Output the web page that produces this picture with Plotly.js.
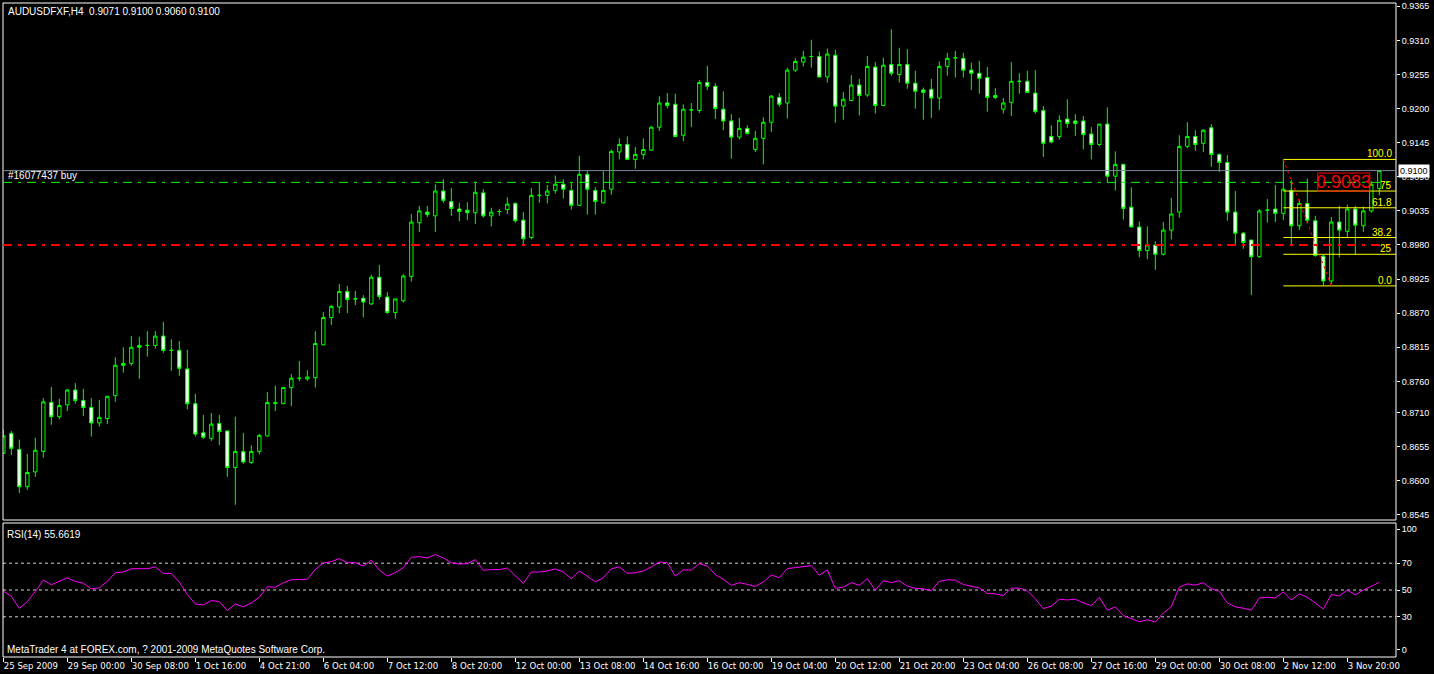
<!DOCTYPE html>
<html><head><meta charset="utf-8">
<script src="https://cdn.plot.ly/plotly-3.0.1.min.js"></script>
<style>html,body{margin:0;padding:0;background:#000;overflow:hidden}#chart{width:1434px;height:674px}</style>
</head><body><div id="chart"></div>
<script>
// ---------------- data ----------------
const symbolTitle = "AUDUSDFXF,H4  0.9071 0.9100 0.9060 0.9100";
const rsiTitle = "RSI(14) 55.6619";
const footerText = "MetaTrader 4 at FOREX.com, ? 2001-2009 MetaQuotes Software Corp.";

const openP = [
0.8644,0.8676,0.8650,0.8590,0.8614,0.8647,0.8726,0.8703,0.8722,0.8746,
0.8729,0.8718,0.8693,0.8700,0.8737,0.8789,0.8789,0.8818,0.8818,0.8818,
0.8833,0.8810,0.8810,0.8780,0.8724,0.8677,0.8668,0.8692,0.8680,0.8621,
0.8647,0.8629,0.8647,0.8672,0.8724,0.8724,0.8750,0.8765,0.8764,0.8766,
0.8819,0.8863,0.8880,0.8905,0.8893,0.8894,0.8885,0.8928,0.8896,0.8871,
0.8890,0.8929,0.9016,0.9033,0.9027,0.9067,0.9050,0.9038,0.9036,0.9032,
0.9064,0.9027,0.9034,0.9037,0.9047,0.9020,0.8992,0.9060,0.9060,0.9068,
0.9078,0.9068,0.9044,0.9094,0.9068,0.9048,0.9070,0.9130,0.9142,0.9118,
0.9126,0.9133,0.9170,0.9209,0.9207,0.9157,0.9198,0.9197,0.9242,0.9236,
0.9199,0.9180,0.9154,0.9168,0.9134,0.9152,0.9178,0.9218,0.9209,0.9262,
0.9275,0.9284,0.9284,0.9251,0.9286,0.9204,0.9213,0.9238,0.9222,0.9267,
0.9205,0.9271,0.9255,0.9271,0.9241,0.9230,0.9231,0.9217,0.9268,0.9282,
0.9281,0.9262,0.9257,0.9250,0.9221,0.9199,0.9210,0.9244,0.9244,0.9225,
0.9197,0.9155,0.9155,0.9183,0.9180,0.9180,0.9159,0.9142,0.9175,0.9091,
0.9110,0.9041,0.9009,0.8971,0.8980,0.8965,0.9004,0.9033,0.9139,0.9155,
0.9144,0.9169,0.9126,0.9113,0.9033,0.8999,0.8988,0.8961,0.9036,0.9038,
0.9031,0.9068,0.9011,0.9047,0.9019,0.8962,0.8922,0.9017,0.9002,0.9038,
0.9011,0.9035,0.9071];
const highP = [
0.8682,0.8680,0.8666,0.8643,0.8669,0.8733,0.8751,0.8732,0.8748,0.8757,
0.8748,0.8733,0.8730,0.8736,0.8799,0.8815,0.8833,0.8832,0.8841,0.8841,
0.8856,0.8828,0.8825,0.8811,0.8740,0.8706,0.8709,0.8706,0.8681,0.8703,
0.8677,0.8657,0.8675,0.8743,0.8753,0.8751,0.8772,0.8793,0.8778,0.8841,
0.8872,0.8883,0.8917,0.8914,0.8906,0.8899,0.8932,0.8948,0.8904,0.8893,
0.8933,0.9030,0.9043,0.9043,0.9078,0.9086,0.9072,0.9048,0.9049,0.9082,
0.9070,0.9040,0.9038,0.9057,0.9049,0.9033,0.9072,0.9081,0.9077,0.9092,
0.9086,0.9081,0.9124,0.9099,0.9073,0.9099,0.9134,0.9152,0.9155,0.9138,
0.9152,0.9172,0.9220,0.9225,0.9224,0.9207,0.9209,0.9246,0.9269,0.9241,
0.9228,0.9191,0.9185,0.9173,0.9164,0.9186,0.9222,0.9225,0.9266,0.9281,
0.9293,0.9311,0.9292,0.9297,0.9295,0.9227,0.9254,0.9248,0.9285,0.9275,
0.9282,0.9328,0.9298,0.9296,0.9261,0.9234,0.9248,0.9276,0.9290,0.9293,
0.9290,0.9274,0.9277,0.9267,0.9233,0.9217,0.9275,0.9257,0.9261,0.9262,
0.9204,0.9173,0.9189,0.9215,0.9191,0.9188,0.9170,0.9175,0.9202,0.9131,
0.9111,0.9073,0.9018,0.9010,0.8986,0.9017,0.9056,0.9157,0.9178,0.9165,
0.9167,0.9175,0.9128,0.9125,0.9067,0.9001,0.8988,0.9038,0.9054,0.9077,
0.9118,0.9085,0.9053,0.9087,0.9027,0.8964,0.9025,0.9043,0.9045,0.9043,
0.9042,0.9083,0.9100];
const lowP = [
0.8643,0.8641,0.8580,0.8585,0.8606,0.8637,0.8690,0.8699,0.8712,0.8724,
0.8704,0.8671,0.8687,0.8691,0.8727,0.8774,0.8785,0.8764,0.8800,0.8813,
0.8806,0.8777,0.8769,0.8715,0.8671,0.8667,0.8664,0.8657,0.8606,0.8561,
0.8627,0.8627,0.8642,0.8671,0.8712,0.8723,0.8720,0.8760,0.8761,0.8750,
0.8818,0.8851,0.8870,0.8870,0.8883,0.8863,0.8883,0.8892,0.8869,0.8861,
0.8887,0.8921,0.9001,0.9025,0.9001,0.9048,0.9027,0.9018,0.9020,0.9014,
0.9024,0.9010,0.9027,0.9030,0.9016,0.8979,0.8989,0.9048,0.9047,0.9063,
0.9055,0.9037,0.9043,0.9029,0.9029,0.9047,0.9061,0.9118,0.9117,0.9103,
0.9118,0.9132,0.9164,0.9200,0.9154,0.9147,0.9170,0.9193,0.9230,0.9183,
0.9165,0.9119,0.9150,0.9158,0.9130,0.9110,0.9162,0.9203,0.9184,0.9259,
0.9268,0.9266,0.9250,0.9242,0.9177,0.9182,0.9213,0.9189,0.9219,0.9192,
0.9204,0.9253,0.9242,0.9232,0.9200,0.9182,0.9185,0.9198,0.9253,0.9250,
0.9250,0.9230,0.9224,0.9195,0.9215,0.9192,0.9188,0.9224,0.9226,0.9192,
0.9122,0.9144,0.9150,0.9169,0.9156,0.9134,0.9118,0.9139,0.9081,0.9068,
0.9021,0.9009,0.8960,0.8957,0.8940,0.8963,0.8989,0.9024,0.9136,0.9132,
0.9130,0.9106,0.9098,0.9019,0.8980,0.8974,0.8899,0.8959,0.9016,0.9017,
0.9020,0.8978,0.9004,0.9015,0.8961,0.8914,0.8917,0.8960,0.8991,0.8964,
0.9001,0.9032,0.9060];
const closeP = [
0.8672,0.8652,0.8590,0.8613,0.8649,0.8727,0.8703,0.8721,0.8746,0.8729,
0.8718,0.8693,0.8702,0.8736,0.8786,0.8786,0.8815,0.8815,0.8818,0.8833,
0.8810,0.8810,0.8781,0.8724,0.8675,0.8670,0.8691,0.8679,0.8621,0.8647,
0.8630,0.8647,0.8673,0.8726,0.8726,0.8750,0.8765,0.8765,0.8767,0.8821,
0.8863,0.8881,0.8905,0.8892,0.8893,0.8888,0.8928,0.8897,0.8871,0.8893,
0.8930,0.9017,0.9035,0.9029,0.9067,0.9052,0.9039,0.9034,0.9032,0.9065,
0.9027,0.9033,0.9034,0.9046,0.9019,0.8990,0.9060,0.9060,0.9067,0.9078,
0.9070,0.9044,0.9094,0.9070,0.9050,0.9068,0.9131,0.9142,0.9118,0.9126,
0.9134,0.9170,0.9209,0.9205,0.9155,0.9199,0.9198,0.9242,0.9236,0.9200,
0.9180,0.9154,0.9168,0.9160,0.9152,0.9178,0.9220,0.9207,0.9262,0.9276,
0.9283,0.9284,0.9251,0.9288,0.9204,0.9215,0.9238,0.9221,0.9268,0.9205,
0.9270,0.9257,0.9271,0.9241,0.9228,0.9226,0.9217,0.9268,0.9281,0.9282,
0.9262,0.9257,0.9249,0.9218,0.9218,0.9209,0.9244,0.9244,0.9226,0.9195,
0.9144,0.9146,0.9181,0.9176,0.9176,0.9158,0.9142,0.9175,0.9091,0.9110,
0.9039,0.9009,0.8971,0.8980,0.8965,0.9004,0.9030,0.9139,0.9155,0.9142,
0.9165,0.9126,0.9113,0.9033,0.8999,0.8984,0.8961,0.9035,0.9036,0.9031,
0.9070,0.9011,0.9047,0.9020,0.8963,0.8922,0.9017,0.9004,0.9038,0.9012,
0.9035,0.9078,0.9100];
const rsi14 = [
49.1,45.4,36.3,41.3,48.9,57.4,53.9,56.4,59.1,56.4,
55.1,50.9,51.6,56.4,62.9,63.4,65.9,65.9,65.9,67.2,
62.4,62.4,55.9,46.6,39.6,38.9,42.1,41.4,34.6,39.6,
37.4,40.4,44.6,52.4,52.1,55.4,57.6,57.9,57.9,65.4,
70.2,71.2,73.4,70.4,70.4,67.9,72.2,64.9,60.4,62.9,
66.7,74.4,74.9,73.9,76.4,73.9,70.4,69.4,69.7,72.7,
64.7,65.2,65.2,66.4,60.9,54.9,63.4,63.4,64.2,65.7,
63.4,58.4,64.2,59.9,56.2,59.1,65.9,67.2,62.4,62.9,
64.2,67.2,70.9,70.4,60.4,64.9,64.9,69.7,67.9,61.5,
58.0,53.5,55.5,54.2,52.7,56.0,61.2,59.2,66.0,66.7,
67.2,68.2,61.0,65.0,51.2,52.2,55.5,53.5,58.5,49.9,
56.9,55.6,56.9,52.9,51.2,50.9,49.6,56.4,57.6,57.4,
54.1,52.9,51.6,47.4,47.1,45.9,51.4,51.4,49.4,43.4,
36.1,37.9,43.1,42.6,43.1,40.4,38.4,44.6,34.9,37.4,
30.9,28.6,26.3,27.8,26.1,32.8,37.6,52.1,54.6,53.6,
55.4,50.9,49.1,40.4,37.4,36.4,34.9,44.1,44.6,44.1,
48.6,42.6,47.1,44.6,39.9,35.9,46.6,45.6,49.9,46.4,
49.9,52.9,55.66];

const timeTickIdx = [0,8,16,24,32,40,48,56,64,72,80,88,96,104,112,120,128,136,144,152,160,168];
const timeTickLabels = ["25 Sep 2009","29 Sep 00:00","30 Sep 08:00","1 Oct 16:00","4 Oct 21:00","6 Oct 04:00",
 "7 Oct 12:00","8 Oct 20:00","12 Oct 00:00","13 Oct 08:00","14 Oct 16:00","16 Oct 00:00","19 Oct 04:00",
 "20 Oct 12:00","21 Oct 20:00","23 Oct 04:00","26 Oct 08:00","27 Oct 16:00","29 Oct 00:00","30 Oct 08:00",
 "2 Nov 12:00","3 Nov 20:00"];
const priceTicks = [0.9365,0.9310,0.9255,0.9200,0.9145,0.9090,0.9035,0.8980,0.8925,0.8870,0.8815,0.8760,0.8710,0.8655,0.8600,0.8545];
const rsiTickVals = [95.5,70,50,30,5.3];
const rsiTickLabels = ["100","70","50","30","0"];
const rsiLevels = [70,50,30];

const orderLabel = "#16077437 buy";
const orderPrice = 0.9081;
const stopPrice = 0.8980;
const bidPrice = 0.9100;
const bidLabel = "0.9100";
const fibStartIdx = 160, fibEndIdx = 166;
const fibPrices = [0.9118,0.9067,0.9040,0.8992,0.8965,0.8914];
const fibLabels = ["100.0","75","61.8","38.2","25","0.0"];
const noteText = "0.9083";
const noteBox = {i0:164.3, i1:170.8, p0:0.9067, p1:0.9096};

// ---------------- layout helpers (pixel geometry) ----------------
const W=1434,H=674, ML=3, MR=38, MT=3, MB=17;
const PW=W-ML-MR, PH=H-MT-MB;
const px2x = px => (px-ML)/PW;
const py2y = py => (H-MB-py)/PH;
const mainDom=[py2y(520),1], rsiDom=[0,py2y(523)];
const xRange=[-0.04, -0.04+PW/8];
const idx = openP.map((_,i)=>i);

const F = "Liberation Sans, Arial, sans-serif";
const FN = "Liberation Sans Narrow, DejaVu Sans Condensed, Arial Narrow, sans-serif";
const DASHDOT = "9px,6px,3px,6px";

const traces = [
 {type:'candlestick', x:idx, open:openP, high:highP, low:lowP, close:closeP,
  xaxis:'x', yaxis:'y', whiskerwidth:0, hoverinfo:'skip',
  increasing:{line:{color:'#00ff00',width:1}, fillcolor:'#000000'},
  decreasing:{line:{color:'#00ff00',width:1}, fillcolor:'#ffffff'}},
 {type:'scatter', mode:'lines', x:idx, y:rsi14, xaxis:'x', yaxis:'y2',
  line:{color:'#ff00ff', width:1}, hoverinfo:'skip'}
];

const shapes = [];
shapes.push({type:'rect', xref:'paper', yref:'paper', x0:0, x1:1, y0:mainDom[0], y1:1, line:{color:'#ffffff',width:1}});
shapes.push({type:'rect', xref:'paper', yref:'paper', x0:0, x1:1, y0:0, y1:rsiDom[1], line:{color:'#ffffff',width:1}});
rsiLevels.forEach(v=>shapes.push({type:'line', xref:'paper', yref:'y2', x0:0, x1:1, y0:v, y1:v, layer:'below',
  line:{color:'#d0d0d0', width:1, dash:'3px,3px'}}));
shapes.push({type:'line', xref:'paper', yref:'y', x0:0, x1:1, y0:bidPrice, y1:bidPrice, line:{color:'#778899',width:1}});
shapes.push({type:'line', xref:'paper', yref:'y', x0:0, x1:1, y0:orderPrice, y1:orderPrice, line:{color:'#00ff00',width:1,dash:DASHDOT}});
shapes.push({type:'line', xref:'paper', yref:'y', x0:0, x1:1, y0:stopPrice, y1:stopPrice, line:{color:'#ff0000',width:2,dash:DASHDOT}});
fibPrices.forEach(p=>shapes.push({type:'line', xref:'x', yref:'y', x0:fibStartIdx, x1:xRange[1], y0:p, y1:p, line:{color:'#ffff00',width:1}}));
shapes.push({type:'line', xref:'x', yref:'y', x0:fibStartIdx, x1:fibEndIdx, y0:fibPrices[0], y1:fibPrices[fibPrices.length-1], line:{color:'#ff0000',width:1,dash:'dot'}});
shapes.push({type:'rect', xref:'x', yref:'y', x0:noteBox.i0, x1:noteBox.i1, y0:noteBox.p0, y1:noteBox.p1, line:{color:'#ff0000',width:1}});

const annotations = [
 {xref:'paper', yref:'paper', x:px2x(6), y:py2y(4), xanchor:'left', yanchor:'top', text:symbolTitle, showarrow:false, font:{family:F,size:10,color:'#ffffff'}},
 {xref:'paper', yref:'paper', x:px2x(5), y:py2y(527), xanchor:'left', yanchor:'top', text:rsiTitle, showarrow:false, font:{family:F,size:10,color:'#ffffff'}},
 {xref:'paper', yref:'paper', x:px2x(5), y:py2y(642), xanchor:'left', yanchor:'top', text:footerText, showarrow:false, font:{family:F,size:10,color:'#ffffff'}},
 {xref:'paper', yref:'y', x:px2x(6), y:orderPrice, xanchor:'left', yanchor:'bottom', yshift:-1, text:orderLabel, showarrow:false, font:{family:F,size:10,color:'#ffffff'}},
 {xref:'x', yref:'y', x:(noteBox.i0+noteBox.i1)/2, y:(noteBox.p0+noteBox.p1)/2, xanchor:'center', yanchor:'middle', text:noteText, showarrow:false, font:{family:F,size:18,color:'#ff0000'}},
 {xref:'paper', yref:'y', x:px2x(1398), y:bidPrice, xanchor:'left', yanchor:'middle', text:bidLabel, showarrow:false, bgcolor:'#ffffff', borderpad:1, font:{family:F,size:9,color:'#000000'}}
];
fibPrices.forEach((p,k)=>annotations.push({xref:'paper', yref:'y', x:px2x(1394), y:p, xanchor:'right', yanchor:'bottom', yshift:-2,
  text:fibLabels[k], showarrow:false, font:{family:F,size:10,color:'#ffff00'}}));

const layout = {
 width:W, height:H, margin:{l:ML,r:MR,t:MT,b:MB,pad:0},
 paper_bgcolor:'#000000', plot_bgcolor:'#000000', showlegend:false, hovermode:false,
 boxgap:0.4, font:{family:F, color:'#ffffff', size:9},
 xaxis:{domain:[0,1], anchor:'y2', range:xRange, type:'linear', showgrid:false, zeroline:false, showline:false,
   rangeslider:{visible:false}, tickmode:'array', tickvals:timeTickIdx, ticktext:timeTickLabels,
   tickangle:0, automargin:false,
   ticks:'outside', ticklen:4, tickcolor:'#ffffff', ticklabelposition:'outside right',
   tickfont:{family:FN, size:9.5, color:'#ffffff'}},
 yaxis:{domain:mainDom, anchor:'x', side:'right', range:[0.85364,0.93703], showgrid:false, zeroline:false, showline:false,
   tickmode:'array', tickvals:priceTicks, ticktext:priceTicks.map(v=>v.toFixed(4)), automargin:false,
   ticks:'outside', ticklen:3, tickcolor:'#ffffff', tickfont:{family:F,size:9,color:'#ffffff'}},
 yaxis2:{domain:rsiDom, anchor:'x', side:'right', range:[0,100], showgrid:false, zeroline:false, showline:false,
   tickmode:'array', tickvals:rsiTickVals, ticktext:rsiTickLabels, automargin:false,
   ticks:'outside', ticklen:3, tickcolor:'#ffffff', tickfont:{family:F,size:9,color:'#ffffff'}},
 shapes:shapes, annotations:annotations
};
Plotly.newPlot('chart', traces, layout, {displayModeBar:false, staticPlot:true});
</script></body></html>
